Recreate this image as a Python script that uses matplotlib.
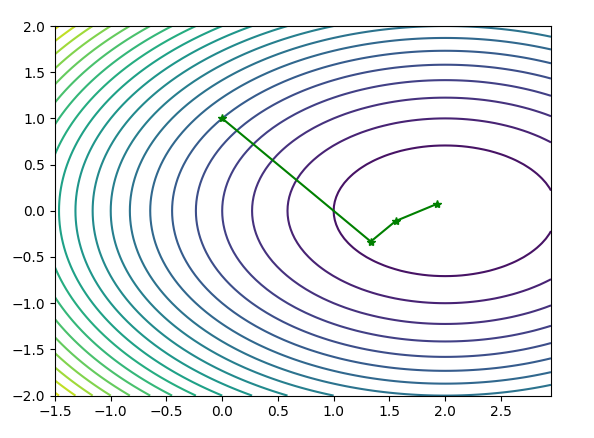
import numpy as np
import matplotlib
matplotlib.use("Agg")
import matplotlib.pyplot as plt

# Objective: f(x, y) = (x - 2)^2 + 2 y^2
center_x = 2.0
y_weight = 2.0
n_levels = 20

# Optimisation path
path_x = [0.0, 1.333, 1.556, 1.926]
path_y = [1.0, -0.333, -0.111, 0.074]

x = np.arange(-1.5, 3.0, 0.05)
y = np.linspace(-2.0, 2.0, 81)
X, Y = np.meshgrid(x, y)
Z = (X - center_x) ** 2 + y_weight * Y ** 2

fig = plt.figure(figsize=(5.94, 4.38), dpi=100)
ax = fig.add_axes([55 / 594, (438 - 395.6) / 438, 496 / 594, 369.6 / 438])
ax.contour(X, Y, Z, n_levels)
ax.plot(path_x, path_y, 'g*-')
fig.savefig("out.png", dpi=100)
